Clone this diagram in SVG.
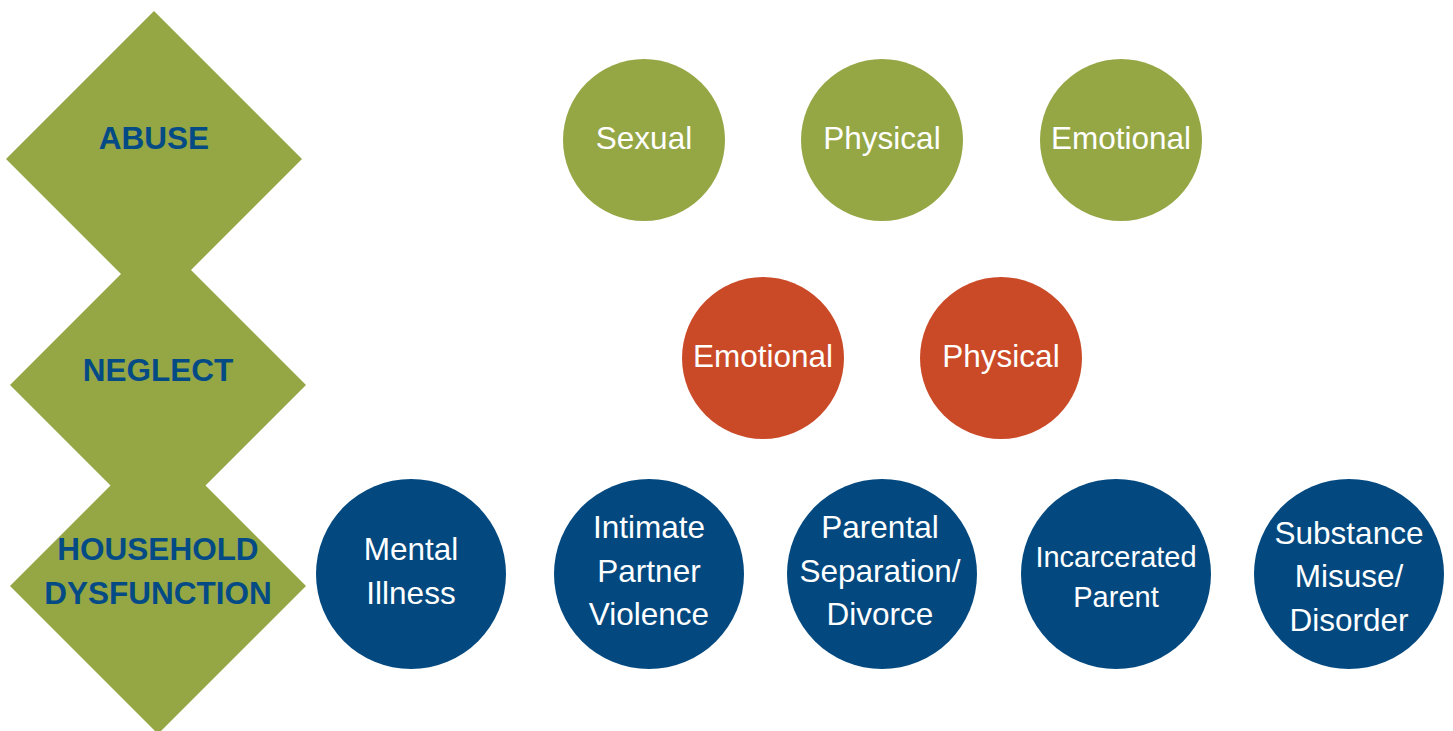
<svg xmlns="http://www.w3.org/2000/svg" width="1453" height="731" viewBox="0 0 1453 731">
  <style>
    .diamond { fill: #95A645; }
    .cat { font-family: "Liberation Sans", Arial, sans-serif; font-weight: bold; font-size: 31.5px; fill: #044B86; text-anchor: middle; }
    .abuse { fill: #95A645; }
    .neglect { fill: #CA4A28; }
    .house { fill: #03497F; }
    .lbl { font-family: "Liberation Sans", Arial, sans-serif; font-size: 31.5px; fill: #FFFFFF; text-anchor: middle; }
    .lbl-sm { font-size: 29px; }
  </style>
  <rect width="1453" height="731" fill="#FFFFFF"/>

  <!-- Category diamonds (stacked, overlapping) -->
  <g id="cat-abuse">
    <polygon class="diamond" points="154,11 302,159 154,307 6,159"/>
  </g>
  <g id="cat-neglect">
    <polygon class="diamond" points="158,237 306,385 158,533 10,385"/>
  </g>
  <g id="cat-household">
    <polygon class="diamond" points="158,438 306,586 158,734 10,586"/>
  </g>
  <g id="cat-labels">
    <text class="cat" x="154" y="149">ABUSE</text>
    <text class="cat" x="158" y="381">NEGLECT</text>
    <text class="cat" x="158" y="560">HOUSEHOLD</text>
    <text class="cat" x="158" y="604">DYSFUNCTION</text>
  </g>

  <!-- Abuse -->
  <g id="abuse-sexual">
    <circle class="abuse" cx="644" cy="140" r="81"/>
    <text class="lbl" x="644" y="149">Sexual</text>
  </g>
  <g id="abuse-physical">
    <circle class="abuse" cx="882" cy="140" r="81"/>
    <text class="lbl" x="882" y="149">Physical</text>
  </g>
  <g id="abuse-emotional">
    <circle class="abuse" cx="1121" cy="140" r="81"/>
    <text class="lbl" x="1121" y="149">Emotional</text>
  </g>

  <!-- Neglect -->
  <g id="neglect-emotional">
    <circle class="neglect" cx="763" cy="358" r="81"/>
    <text class="lbl" x="763" y="367">Emotional</text>
  </g>
  <g id="neglect-physical">
    <circle class="neglect" cx="1001" cy="358" r="81"/>
    <text class="lbl" x="1001" y="367">Physical</text>
  </g>

  <!-- Household dysfunction -->
  <g id="hd-mental-illness">
    <circle class="house" cx="411" cy="574" r="95"/>
    <text class="lbl" x="411" y="560">Mental</text>
    <text class="lbl" x="411" y="604">Illness</text>
  </g>
  <g id="hd-ipv">
    <circle class="house" cx="649" cy="574" r="95"/>
    <text class="lbl" x="649" y="538">Intimate</text>
    <text class="lbl" x="649" y="582">Partner</text>
    <text class="lbl" x="649" y="625">Violence</text>
  </g>
  <g id="hd-separation">
    <circle class="house" cx="882" cy="574" r="95"/>
    <text class="lbl" x="880" y="538">Parental</text>
    <text class="lbl" x="880" y="582">Separation/</text>
    <text class="lbl" x="880" y="625">Divorce</text>
  </g>
  <g id="hd-incarcerated">
    <circle class="house" cx="1116" cy="574" r="95"/>
    <text class="lbl lbl-sm" x="1116" y="567">Incarcerated</text>
    <text class="lbl lbl-sm" x="1116" y="607">Parent</text>
  </g>
  <g id="hd-substance">
    <circle class="house" cx="1349" cy="574" r="95"/>
    <text class="lbl" x="1349" y="544">Substance</text>
    <text class="lbl" x="1349" y="587">Misuse/</text>
    <text class="lbl" x="1349" y="631">Disorder</text>
  </g>
</svg>
